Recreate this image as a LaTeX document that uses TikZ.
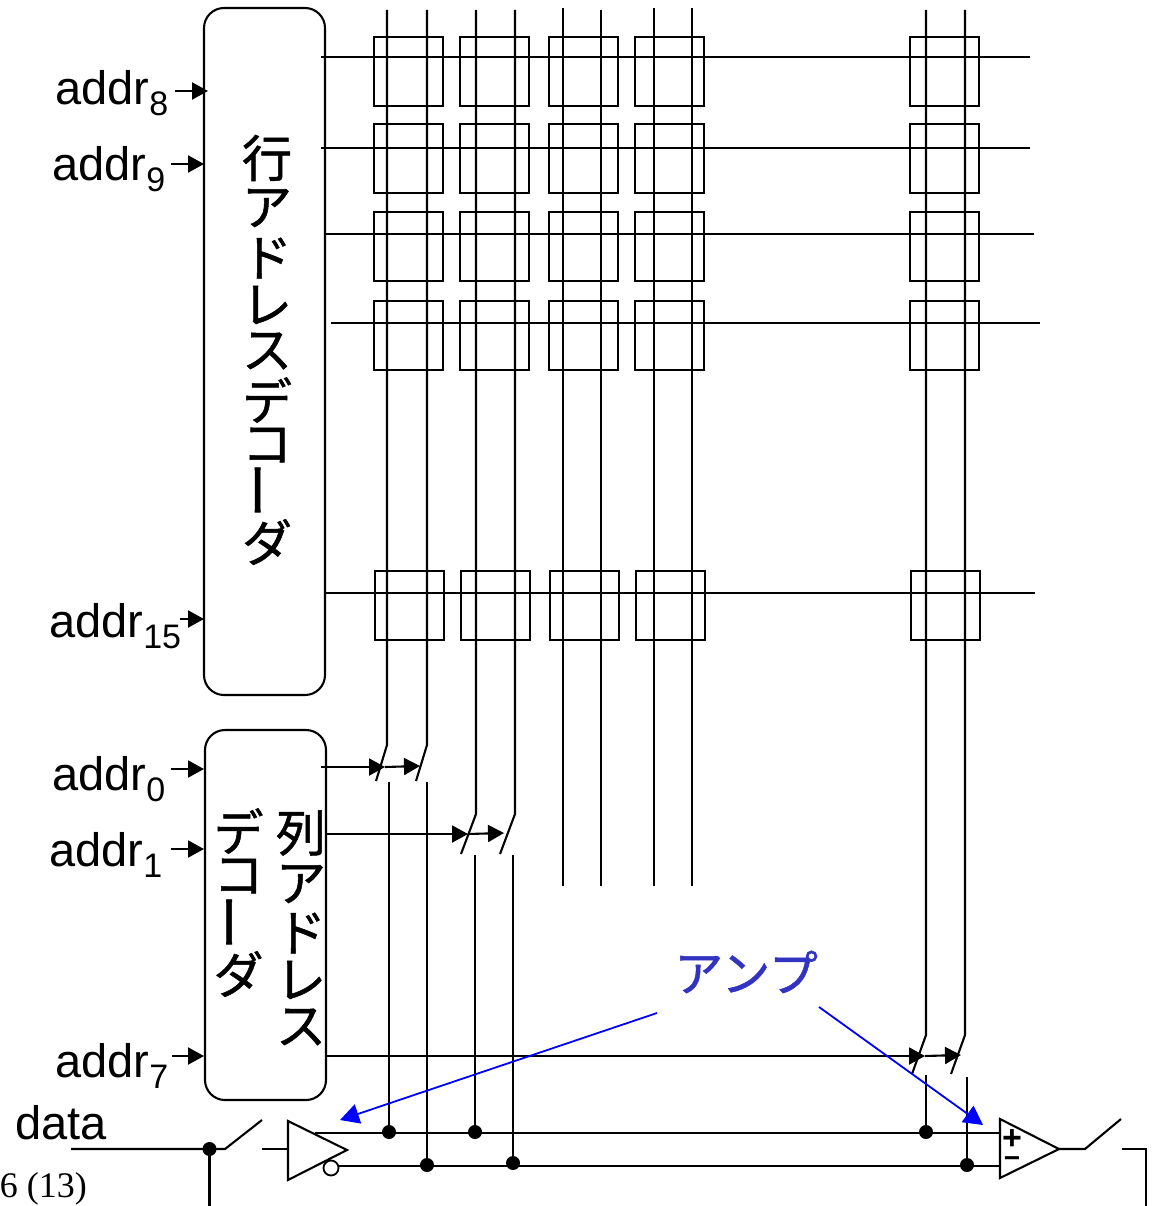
\documentclass[tikz,border=0pt]{standalone}
\usepackage{fontspec}
\setmainfont{Liberation Sans}
\newfontfamily\serifface{Liberation Serif}
\newfontfamily\jp[FakeBold=1]{Noto Sans CJK JP}
\usetikzlibrary{arrows.meta}
\newcommand{\addrlabel}[2]{addr\raisebox{-11pt}{\fontsize{34}{34}\selectfont #2}}
\tikzset{
  x=1pt,y=-1pt,
  wire/.style={line width=2.1pt,black},
  arrowwire/.style={wire,-{Triangle[length=16pt,width=17pt]}},
  bluearrow/.style={line width=1.8pt,color=blue,-{Triangle[length=19pt,width=20pt]}},
  decoder/.style={draw,line width=2.1pt,rounded corners=20pt},
  cellbox/.style={draw,line width=2.1pt,minimum width=69pt,minimum height=69pt,inner sep=0pt},
  addrtext/.style={anchor=base west,inner sep=0pt,font=\fontsize{47}{47}\selectfont},
  jpchar/.style={inner sep=0pt,font=\jp\fontsize{50}{50}\selectfont},
  jpbar/.style={inner sep=0pt,rotate=-90,yscale=-1,font=\jp\fontsize{56}{56}\selectfont},
  dot/.style={circle,fill=black,inner sep=0pt,minimum size=14pt},
  bubble/.style={circle,draw,fill=white,line width=1.8pt,inner sep=0pt,minimum size=15pt},
}
\begin{document}
\begin{tikzpicture}
\useasboundingbox (0,0) rectangle (1157,1206);
\clip (0,0) rectangle (1157,1206);
% decoders
\draw[decoder] (204,8) rectangle (325,695);
\draw[decoder] (205,730) rectangle (326,1100);
% cells
\foreach \cx [count=\i] in {408.5,494.5,583.5,669.5,944.5}{
  \foreach \cy [count=\j] in {71.5,158.3,246.5,335.5}{
    \node[cellbox] (c\i\j) at (\cx,\cy) {};
  }
  \node[cellbox] (c\i5) at (\cx+1.3,605.7) {};
}
% word lines
\foreach \n/\a/\b/\y in {w1/321/1030/57,w2/321/1030/148,w3/325/1034/234,w4/331/1040/323,w5/325/1035/593}{
  \coordinate (\n a) at (\a,\y);
  \coordinate (\n b) at (\b,\y);
  \draw[wire] (\n a) -- (\n b);
}
% bit lines, with switch
\foreach \n/\x/\yb/\xe/\ye in {b1/387/745/376/781,b2/427/745/416/781,b3/476/814/461/854,b4/515/814/500/854,b9/926/1035/912/1074,b10/965/1035/951/1074}{
  \coordinate (\n t) at (\x,10);
  \coordinate (\n k) at (\x,\yb);
  \coordinate (\n e) at (\xe,\ye);
  \draw[wire] (\n t) -- (\n k) -- (\n e);
}
% open bit lines
\foreach \n/\x/\yt in {b5/563/8,b6/601/10,b7/654/8,b8/692/8}{
  \coordinate (\n t) at (\x,\yt);
  \coordinate (\n e) at (\x,886);
  \draw[wire] (\n t) -- (\n e);
}
% bus
\coordinate (busAa) at (315,1133);
\coordinate (busAb) at (1000,1133);
\coordinate (busBa) at (338,1166);
\coordinate (busBb) at (1000,1166);
% dots and lower stubs
\foreach \n/\x/\yt/\y in {s1/389/782/1132,s2/427/782/1165,s3/475/855/1132,s4/513/855/1163,s5/926/1075/1132,s6/967/1077/1165}{
  \coordinate (\n t) at (\x,\yt);
  \node[dot] (\n) at (\x,\y) {};
  \draw[wire] (\n t) -- (\n);
}
% column select arrows
\coordinate (k1a) at (321,767);
\coordinate (k1b) at (385,767);
\coordinate (k1c) at (420,766);
\draw[arrowwire] (k1a) -- (k1b);
\draw[arrowwire] (k1b) -- (k1c);
\coordinate (k2a) at (325,834);
\coordinate (k2b) at (468,834);
\coordinate (k2c) at (504,833);
\draw[arrowwire] (k2a) -- (k2b);
\draw[arrowwire] (k2b) -- (k2c);
\coordinate (k3a) at (326,1056);
\coordinate (k3b) at (925,1056);
\coordinate (k3c) at (961,1055);
\draw[arrowwire] (k3a) -- (k3b);
\draw[arrowwire] (k3b) -- (k3c);
% address labels and arrows
\foreach \n/\s/\lx/\ly/\ax/\ay/\bx in {a8/8/55/105/175/91/208,a9/9/52/181/171/164/204,a15/15/49/637/180/619/204,a0/0/52/790/171/769/204,a1/1/49/866/171/849/204,a7/7/55/1077/172/1056/204}{
  \node[addrtext] (\n) at (\lx,\ly) {\addrlabel{}{\s}};
  \coordinate (\n s) at (\ax,\ay);
  \coordinate (\n e) at (\bx,\ay);
  \draw[arrowwire] (\n s) -- (\n e);
}
% vertical Japanese
\foreach \n/\ch/\y in {r1/行/158,r2/ア/208,r3/ド/258,r4/レ/305,r5/ス/351,r6/デ/400,r7/コ/445,r9/ダ/542}{
  \node[jpchar] (\n) at (267,\y) {\ch};
}
\node[jpbar] (r8) at (267,490) {ー};
\foreach \n/\ch/\y in {p1/列/833,p2/ア/884,p3/ド/933,p4/レ/980,p5/ス/1027}{
  \node[jpchar] (\n) at (301,\y) {\ch};
}
\foreach \n/\ch/\y in {q1/デ/831,q2/コ/876,q4/ダ/974}{
  \node[jpchar] (\n) at (238.5,\y) {\ch};
}
\node[jpbar] (q3) at (238.5,922) {ー};
% data input
\node[addrtext] (datalabel) at (15,1139) {data};
\coordinate (d0) at (71,1149);
\coordinate (d1) at (225,1149);
\coordinate (d2) at (262,1120);
\node[dot] (ddot) at (209.5,1149) {};
\coordinate (d3) at (209.5,1206);
\draw[wire] (d0) -- (d1) -- (d2);
\draw[wire] (ddot) -- (d3);
\coordinate (d4) at (262,1149);
\coordinate (t1) at (288,1121);
\coordinate (t2) at (347,1150);
\coordinate (t3) at (288,1180);
\coordinate (t4) at (288,1149);
\draw[wire] (d4) -- (t4);
\draw[wire] (t1) -- (t2) -- (t3) -- cycle;
\node[bubble] (inv) at (331,1168) {};
\draw[wire] (busAa) -- (busAb);
\draw[wire] (busBa) -- (busBb);
% amp
\coordinate (m1) at (1000,1119);
\coordinate (m2) at (1059,1149);
\coordinate (m3) at (1000,1178);
\draw[wire] (m1) -- (m2) -- (m3) -- cycle;
\node[inner sep=0pt,font=\bfseries\fontsize{34}{20}\selectfont] (plus) at (1012,1140) {+};
\node[inner sep=0pt,font=\bfseries\fontsize{28}{20}\selectfont] (minus) at (1012,1162) {−};
\coordinate (o1) at (1085,1149);
\coordinate (o2) at (1121,1119);
\coordinate (o3) at (1122,1149);
\coordinate (o4) at (1146,1149);
\coordinate (o5) at (1146,1206);
\draw[wire] (m2) -- (o1) -- (o2);
\draw[wire] (o3) -- (o4) -- (o5);
% blue callout
\node[inner sep=0pt,text=blue!70!black!80!white,font=\jp\fontsize{49}{49}\selectfont] (amp) at (746,972) {アンプ};
\coordinate (ba) at (657,1013);
\coordinate (bb) at (340,1120);
\coordinate (bc) at (819,1007);
\coordinate (bd) at (983,1125);
\draw[bluearrow] (ba) -- (bb);
\draw[bluearrow] (bc) -- (bd);
% page number
\node[anchor=base east,inner sep=0pt,font=\serifface\fontsize{36}{36}\selectfont] (pg) at (87,1197) {6 (13)};
\end{tikzpicture}
\end{document}
